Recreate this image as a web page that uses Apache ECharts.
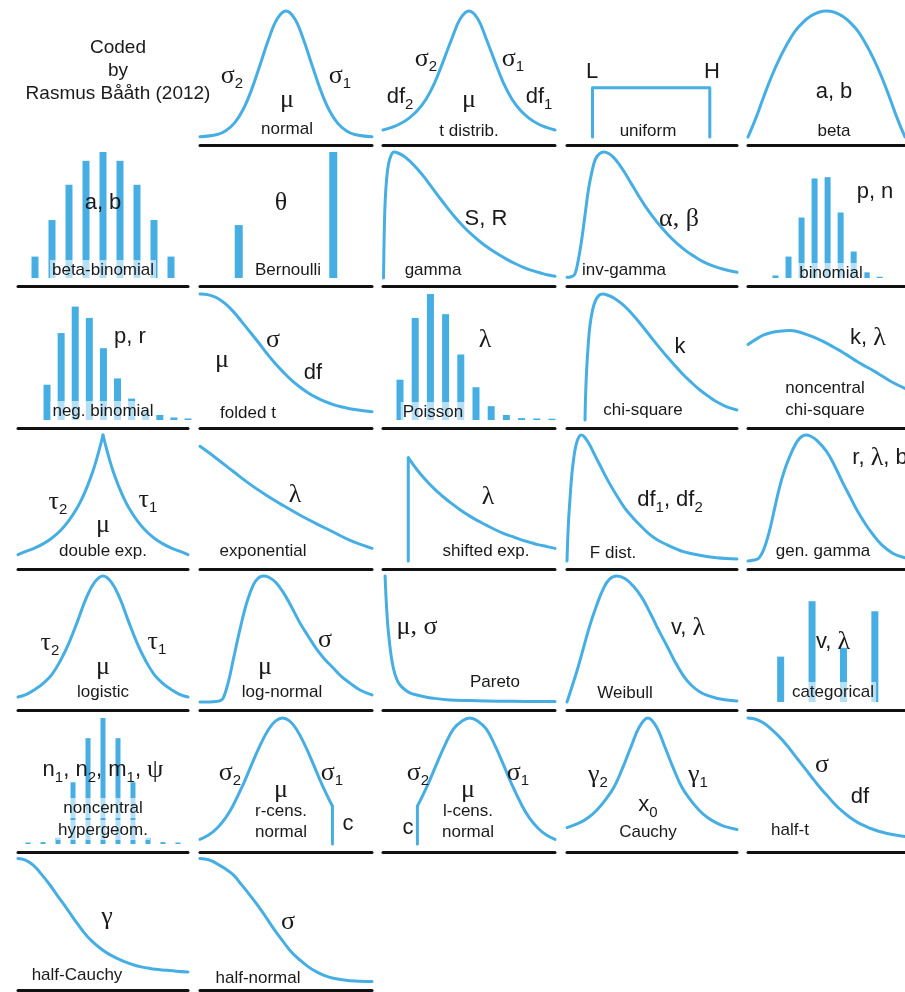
<!DOCTYPE html>
<html><head><meta charset="utf-8">
<script src="https://cdn.jsdelivr.net/npm/echarts@6/dist/echarts.min.js"></script>
<style>html,body{margin:0;padding:0;background:#fff;}#c{width:905px;height:992px;}</style>
</head><body><div id="c"></div>
<script>
// ---------- data (x in % of panel width, y in % of peak height) ----------
const normalCurve = [[0,0.2],[10,2],[15,5],[20,11],[25,21.6],[30,37.6],[35,57.6],[40,78],[45,94],[50,100],[55,94],[60,78],[65,57.6],[70,37.6],[75,21.6],[80,11],[85,5],[90,2],[100,0.2]];
const tDistCurve = [[0,5.5],[5,7.6],[10,10.5],[15,14.8],[20,21],[25,30],[30,43],[35,60],[40,78],[45,94],[50,100],[55,94],[60,78],[65,60],[70,43],[75,30],[80,21],[85,14.8],[90,10.5],[95,7.6],[100,5.5]];
const uniformCurve = [[15,0],[15,39],[84,39],[84,0]];
const betaCurve = [[0,0],[5,15],[10,32],[15,48],[20,62],[25,74],[30,84],[35,91],[40,96],[45,99],[50,100],[55,99],[60,96],[65,91],[70,84],[75,74],[80,62],[85,48],[90,32],[95,15],[100,0]];
const betaBinomialBars = [17,46,74,93,100,93,74,46,17];
const bernoulliBars = [42,100];
const gammaCurve = [[0.3,0],[0.7,35],[1.3,62],[2.2,80],[3.3,91],[4.6,97],[6.3,100],[9,99],[12,96.8],[15,93.5],[18,89.5],[21,85],[24,80],[27,74.5],[30,69],[33,63.5],[37,56.5],[42,48],[47,40.5],[52,34],[57,28.2],[62,23.2],[67,18.8],[72,14.8],[77,11.3],[82,8.3],[87,5.8],[92,3.8],[96,2.4],[100,1.4]];
const invGammaCurve = [[0,0.5],[2.5,1],[4.6,3],[6.6,14],[8.6,30],[10.6,50],[12.6,70],[14.6,84],[16.6,94],[19,98.5],[21.7,100],[24.5,98.8],[27.5,95.5],[30.5,90.5],[34,83.5],[38,74.5],[42,65.5],[46,57],[50,49.5],[55,41],[60,33.5],[65,27],[70,21.5],[75,17],[80,13],[85,10],[92,7],[100,4.5]];
const binomialBars = [2,17,48,79,80,52,21,4.5,1];
const negBinomialBars = [28,69,90,81,57,33,17,8,4,2,1.2];
const foldedTCurve = [[0,100],[5,99.3],[9.7,97],[14.5,92.5],[19.4,86],[24,78.5],[29,70],[34,61.5],[38.8,53],[43.5,45.2],[48.4,38],[53,31.8],[58,26.2],[63,21.5],[67.8,17.7],[72.5,14.7],[77.5,12.2],[82,10.5],[87,9],[93,7.7],[100,6.6]];
const poissonBars = [32,81,100,84,52,26,11,4,1.5,1.2,1];
const chiSquareCurve = [[10.6,0],[11,22],[11.6,41],[12.5,60],[13.5,75],[15,87],[16.5,94],[18.5,98.5],[21,100],[24,99],[28,96.5],[32,92.5],[36,87.5],[40,81.5],[44,75],[49,66.5],[54,58],[59,50],[64,42.5],[68,36.5],[73,30],[78,24],[83,19],[88,14.5],[94,10.5],[100,8]];
const ncChiSquareCurve = [[0,60],[5,64],[10,67.5],[15,69.5],[20,70.5],[26.5,71],[32,70],[38,67.5],[44,64.5],[50,61],[55,57.5],[60,54],[65,50],[70,46],[75,42.5],[80,39],[86,34.5],[92,30],[100,25]];
const doubleExpLeft = [[0,5],[5,7.8],[10,10.4],[15,13.8],[20,18.3],[25,24.2],[30,32.2],[35,42.7],[38,50.6],[41,60],[44,71],[46,79.7],[48,89.3],[50,100]];
const doubleExpRight = [[50,100],[52,89.3],[54,79.7],[56,71],[59,60],[62,50.6],[65,42.7],[70,32.2],[75,24.2],[80,18.3],[85,13.8],[90,10.4],[95,7.8],[100,5]];
const exponentialCurve = [[0,91],[10,81],[19.4,71],[29,61],[38.8,52],[48.4,44],[58,36.5],[67.8,29.5],[77.5,23],[87,16.5],[100,10]];
const shiftedExpEdge = [[14.7,0],[14.7,82]];
const shiftedExpCurve = [[14.7,82],[20,72],[25,64],[30,57],[35,51],[40,45.5],[45,40.5],[50,36],[55,32],[60,28.5],[65,25],[70,22],[75,19.5],[80,17],[85,15],[90,13],[95,11.5],[100,10]];
const fDistCurve = [[0,0],[0.8,29],[1.8,50],[2.8,68],[4,82],[5.3,92],[7,98.5],[8.6,100],[10.5,98],[13,93],[16,85],[19.4,76],[24,64],[29.2,52],[34,42],[39,34],[44,27],[48.8,21],[53.5,16.5],[58.6,13],[63.5,10],[68.4,7.4],[78,4.5],[88,2.6],[100,1.6]];
const genGammaCurve = [[0,0],[4,0.8],[7,2.4],[10,9],[13.5,23],[17,42],[20,58],[23,71],[26.6,83],[30,92],[33,97.5],[36.5,100],[40,99],[44,95.5],[50,87],[55,76],[60,63],[65,51],[70,39],[75,29],[79.6,21],[85,13],[92.4,6],[100,2.5]];
const logisticCurve = [[0,4],[5,6],[10,10],[15,15],[20,22],[25,33],[30,47],[35,64],[40,82],[45,95],[50,100],[55,95],[60,82],[65,64],[70,47],[75,33],[80,22],[85,15],[90,10],[95,6],[100,4]];
const logNormalCurve = [[0,0],[6,0],[10,0.5],[11.6,1],[13.5,3],[16.5,16],[19.4,34],[23.3,58],[27.2,79],[31,93],[34,98.5],[36.8,100],[40,99],[44,95],[48.4,87],[53,76],[58,63],[63,52],[67.8,42],[72.5,34],[77.5,27],[82,20.5],[87.2,15],[93,9.5],[100,5.6]];
const paretoCurve = [[1.2,100],[1.8,82],[2.5,66],[3.1,56],[4.5,39],[6,27],[8,18],[9.9,13.5],[13,9.5],[16,7],[19.6,5.6],[24,4.2],[29.2,3],[39,1.6],[50,1.1],[60,0.8],[75,0.5],[100,0.3]];
const weibullCurve = [[0,0],[5.7,24],[9.5,42],[13.5,61],[17.5,77],[21.4,90],[25,97.5],[29.2,100],[34,98],[39,92],[44,83],[48.8,71],[53.5,58],[58.6,45],[63.5,32],[68.4,21],[73,13.5],[78.2,8],[83,5],[88,3],[94,1.5],[100,0.8]];
const categoricalBars = [36,80,43,72];
const hypergeomBars = [1.2,1.5,5,49,84,100,84,49,5,1.5,1.2];
const rCensCurve = [[0,3.7],[5,7.1],[10,12.7],[15,21],[19,30],[25,47],[30,63],[35,78.5],[40,91.3],[44,97.7],[48,100],[52,97.7],[56,91.3],[61,78.5],[66,63],[71,47],[77,30]];
const rCensEdge = [[77,30],[77,0]];
const lCensEdge = [[20,0],[20,30]];
const lCensCurve = [[20,30],[26,47],[31,63],[36,78.5],[41,91.3],[46,97.7],[50.5,100],[55,97.7],[60,91.3],[65,78.5],[70,63],[75,47],[81,30],[85,21],[90,12.7],[95,7.1],[100,3.7]];
const cauchyCurve = [[0,13],[7.6,17],[12.6,21],[17.6,27],[22.6,35],[27.6,45],[32.6,60],[37.6,77],[42.6,93],[47.6,100],[52.6,93],[57.6,77],[62.6,60],[67.6,45],[72.6,35],[77.6,27],[82.6,21],[87.6,17],[92.6,14],[100,11.5]];
const halfTCurve = [[0,100],[5,99],[10,96],[15,91],[20,85],[25,78],[30,70],[35,62],[40,54],[45,46],[50,39],[55,32],[60,26],[65,21],[70,17],[75,14],[80,11.5],[85,9.5],[92,7.5],[100,6]];
const halfCauchyCurve = [[0,98],[4,97],[8.8,93],[13.5,86],[18.8,77],[23.5,68],[28.6,58.5],[33.5,49],[38.4,40],[43,33],[48.2,27],[53,22.5],[58,19],[63,16],[67.8,13.7],[72.5,12],[77.6,10.8],[82.5,10],[87.5,9.3],[93,8.6],[100,8]];
const halfNormalCurve = [[0,98],[5,97],[9.7,94],[14.5,90],[19.4,85],[24,77.5],[29,69],[34,60],[38.8,50.5],[43.5,41],[48.4,32],[53,24],[58,17.5],[63,12],[67.8,8],[72.5,5],[77.5,3],[87.2,1],[100,0.3]];

// ---------- layout ----------
const colLeft = [18, 200, 383, 567, 748];
const colWidth = [170, 172, 172, 170, 170];
const rowBase = [145, 286, 428, 569, 710, 852, 990];
const PANEL_H = 126, GAP = 8;
const BLUE = '#46aee3';

const panels = [
  {r:0,c:1,lines:[{d:normalCurve}]},
  {r:0,c:2,lines:[{d:tDistCurve}]},
  {r:0,c:3,lines:[{d:uniformCurve,straight:true}]},
  {r:0,c:4,lines:[{d:betaCurve}]},
  {r:1,c:0,bars:betaBinomialBars,xMin:-1,xMax:9,bw:7},
  {r:1,c:1,bars:bernoulliBars,xMin:-0.41,xMax:1.41,bw:8},
  {r:1,c:2,lines:[{d:gammaCurve}]},
  {r:1,c:3,lines:[{d:invGammaCurve}]},
  {r:1,c:4,bars:binomialBars,xMin:-2.11,xMax:9.94,bw:6},
  {r:2,c:0,bars:negBinomialBars,xMin:-2.06,xMax:10,bw:7},
  {r:2,c:1,lines:[{d:foldedTCurve}]},
  {r:2,c:2,bars:poissonBars,xMin:-1.12,xMax:10.2,bw:7},
  {r:2,c:3,lines:[{d:chiSquareCurve}]},
  {r:2,c:4,lines:[{d:ncChiSquareCurve}]},
  {r:3,c:0,lines:[{d:doubleExpLeft},{d:doubleExpRight}]},
  {r:3,c:1,lines:[{d:exponentialCurve}]},
  {r:3,c:2,lines:[{d:shiftedExpEdge,straight:true},{d:shiftedExpCurve}]},
  {r:3,c:3,lines:[{d:fDistCurve}]},
  {r:3,c:4,lines:[{d:genGammaCurve}]},
  {r:4,c:0,lines:[{d:logisticCurve}]},
  {r:4,c:1,lines:[{d:logNormalCurve}]},
  {r:4,c:2,lines:[{d:paretoCurve}]},
  {r:4,c:3,lines:[{d:weibullCurve}]},
  {r:4,c:4,bars:categoricalBars,xMin:-1.04,xMax:3.96,bw:7},
  {r:5,c:0,bars:hypergeomBars,xMin:-0.67,xMax:10.67,bw:5},
  {r:5,c:1,lines:[{d:rCensCurve},{d:rCensEdge,straight:true}]},
  {r:5,c:2,lines:[{d:lCensEdge,straight:true},{d:lCensCurve}]},
  {r:5,c:3,lines:[{d:cauchyCurve}]},
  {r:5,c:4,lines:[{d:halfTCurve}]},
  {r:6,c:0,lines:[{d:halfCauchyCurve}]},
  {r:6,c:1,lines:[{d:halfNormalCurve}]}
];

// ---------- text ----------
const TXT = '#1a1a1a';
const RICH = {
  n:{fontSize:17,fontFamily:'Liberation Sans',fill:TXT,lineHeight:20},
  c:{fontSize:19,fontFamily:'Liberation Sans',fill:TXT,lineHeight:22},
  p:{fontSize:22,fontFamily:'Liberation Sans',fill:TXT,lineHeight:30},
  g:{fontSize:26,fontFamily:'Liberation Serif',fill:TXT,lineHeight:30},
  s:{fontSize:15,fontFamily:'Liberation Sans',fill:TXT,lineHeight:15,verticalAlign:'bottom'}
};
// [x, y, rich text, name-label background]
const labels = [
  [118,48,'{c|Coded}'],[118,71,'{c|by}'],[118,94,'{c|Rasmus Bååth (2012)}'],
  [232,76,'{g|σ}{s|2}'],[340,76,'{g|σ}{s|1}'],[287,100,'{g|μ}'],[287,129,'{n|normal}'],
  [426,59,'{g|σ}{s|2}'],[513,59,'{g|σ}{s|1}'],[400,97,'{p|df}{s|2}'],[469,100,'{g|μ}'],[539,97,'{p|df}{s|1}'],[469,131,'{n|t distrib.}'],
  [592,72,'{p|L}'],[712,72,'{p|H}'],[648,131,'{n|uniform}'],
  [834,92,'{p|a, b}'],[834,131,'{n|beta}'],
  [103,203,'{p|a, b}'],[103,270,'{n|beta-binomial}',1],
  [281,203,'{g|θ}'],[288,270,'{n|Bernoulli}',1],
  [486,219,'{p|S, R}'],[433,270,'{n|gamma}'],
  [679,219,'{g|α, β}'],[624,270,'{n|inv-gamma}'],
  [875,192,'{p|p, n}'],[831,273,'{n|binomial}',1],
  [130,337,'{p|p, r}'],[103,411,'{n|neg. binomial}',1],
  [222,360,'{g|μ}'],[273,340,'{g|σ}'],[313,373,'{p|df}'],[248,413,'{n|folded t}'],
  [485,340,'{g|λ}'],[433,412,'{n|Poisson}',1],
  [680,347,'{p|k}'],[643,410,'{n|chi-square}'],
  [868,338,'{p|k, }{g|λ}'],[825,388,'{n|noncentral}'],[825,410,'{n|chi-square}'],
  [58,502,'{g|τ}{s|2}'],[148,500,'{g|τ}{s|1}'],[103,525,'{g|μ}'],[103,551,'{n|double exp.}'],
  [295,495,'{g|λ}'],[263,551,'{n|exponential}'],
  [488,497,'{g|λ}'],[486,551,'{n|shifted exp.}'],
  [670,500,'{p|df}{s|1}{p|, df}{s|2}'],[613,553,'{n|F dist.}'],
  [880,458,'{p|r, }{g|λ}{p|, b}'],[823,551,'{n|gen. gamma}'],
  [50,643,'{g|τ}{s|2}'],[157,642,'{g|τ}{s|1}'],[103,667,'{g|μ}'],[103,692,'{n|logistic}'],
  [325,640,'{g|σ}'],[265,667,'{g|μ}'],[282,692,'{n|log-normal}'],
  [417,627,'{g|μ, σ}'],[495,682,'{n|Pareto}'],
  [688,628,'{p|v, }{g|λ}'],[625,693,'{n|Weibull}'],
  [833,642,'{p|v, }{g|λ}'],[833,692,'{n|categorical}',1],
  [103,770,'{p|n}{s|1}{p|, n}{s|2}{p|, m}{s|1}{p|, }{g|ψ}'],[103,808,'{n|noncentral}',1],[103,830,'{n|hypergeom.}',1],
  [230,773,'{g|σ}{s|2}'],[281,790,'{g|μ}'],[332,773,'{g|σ}{s|1}'],[281,811,'{n|r-cens.}'],[281,832,'{n|normal}'],[348,824,'{p|c}'],
  [408,828,'{p|c}'],[418,773,'{g|σ}{s|2}'],[468,790,'{g|μ}'],[518,773,'{g|σ}{s|1}'],[468,811,'{n|l-cens.}'],[468,832,'{n|normal}'],
  [598,775,'{g|γ}{s|2}'],[698,775,'{g|γ}{s|1}'],[648,805,'{p|x}{s|0}'],[648,832,'{n|Cauchy}'],
  [822,765,'{g|σ}'],[860,797,'{p|df}'],[790,830,'{n|half-t}'],
  [107,917,'{g|γ}'],[77,975,'{n|half-Cauchy}'],
  [288,922,'{g|σ}'],[258,978,'{n|half-normal}']
];

// ---------- build ----------
const option = {animation:false, backgroundColor:'#fff', grid:[], xAxis:[], yAxis:[], series:[], graphic:{elements:[]}};
panels.forEach((p,i)=>{
  const zeroY = rowBase[p.r] - GAP;
  option.grid.push({left:colLeft[p.c], top:zeroY-PANEL_H, width:colWidth[p.c], height:PANEL_H});
  option.xAxis.push({type:'value', gridIndex:i, min:p.bars?p.xMin:0, max:p.bars?p.xMax:100, offset:GAP,
    axisLine:{show:true,onZero:false,lineStyle:{color:'#111',width:3}},
    axisTick:{show:false}, axisLabel:{show:false}, splitLine:{show:false}});
  option.yAxis.push({type:'value', gridIndex:i, min:0, max:100, show:false, splitLine:{show:false}});
  if (p.bars) {
    option.series.push({type:'bar', xAxisIndex:i, yAxisIndex:i, barWidth:p.bw, silent:true,
      data:p.bars.map((v,k)=>[k,v]), itemStyle:{color:BLUE}});
  } else {
    p.lines.forEach(l=>option.series.push({type:'line', xAxisIndex:i, yAxisIndex:i, data:l.d,
      smooth:l.straight?false:0.4, symbol:'none', clip:false, silent:true,
      lineStyle:{color:BLUE,width:3,cap:'round',join:'round'}}));
  }
});
labels.forEach(([x,y,t,bg])=>{
  option.graphic.elements.push({type:'text', x, y, z:100, silent:true,
    style:{text:t, rich:RICH, align:'center', verticalAlign:'middle', textAlign:'center', textVerticalAlign:'middle',
      fill:TXT, backgroundColor: bg ? 'rgba(255,255,255,0.6)' : 'transparent', padding: bg ? [0,2] : 0}});
});
const chart = echarts.init(document.getElementById('c'), null, {renderer:'canvas'});
chart.setOption(option);
</script></body></html>
